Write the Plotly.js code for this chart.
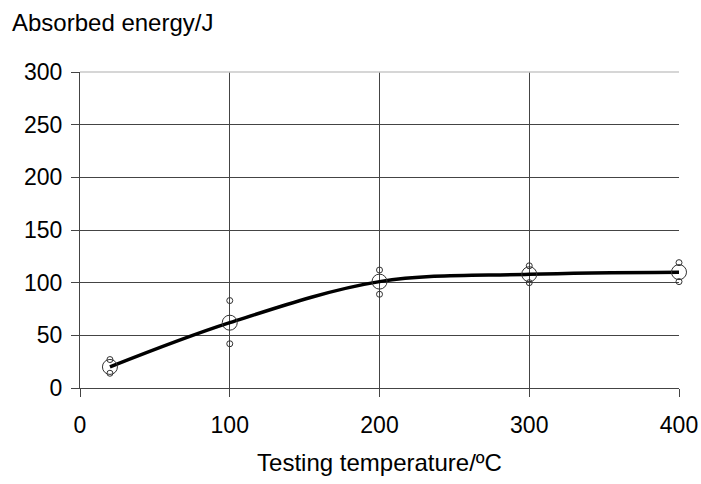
<!DOCTYPE html>
<html><head><meta charset="utf-8">
<script src="https://cdn.plot.ly/plotly-3.0.1.min.js"></script>
<style>html,body{margin:0;padding:0;background:#fff}#chart{width:701px;height:484px}</style>
</head><body><div id="chart"></div>
<script>
const temps = [20, 100, 200, 300, 400];
const meanEnergy = [20, 62, 101, 108, 110];
const indivTemps = [20, 20, 100, 100, 200, 200, 300, 300, 400, 400];
const indivEnergy = [27, 14, 83, 42, 112, 89, 116, 100, 119, 101];
const xTicks = [0, 100, 200, 300, 400];
const yTicks = [0, 50, 100, 150, 200, 250, 300];

const font = {family: 'Liberation Sans, Arial, sans-serif', color: '#000'};
const traces = [
  {x: temps, y: meanEnergy, mode: 'lines', line: {color: '#000', width: 3.5, shape: 'spline', smoothing: 1}, hoverinfo: 'skip', cliponaxis: false},
  {x: temps, y: meanEnergy, mode: 'markers', cliponaxis: false, marker: {symbol: 'circle-open', size: 15, color: '#333', line: {width: 1}}},
  {x: indivTemps, y: indivEnergy, mode: 'markers', cliponaxis: false, marker: {symbol: 'circle-open', size: 6, color: '#333', line: {width: 1}}}
];
const layout = {
  width: 701, height: 484,
  paper_bgcolor: '#fff', plot_bgcolor: '#fff',
  showlegend: false,
  margin: {l: 80, r: 22, t: 72, b: 96},
  title: {text: 'Absorbed energy/J', font: Object.assign({size: 24}, font), x: 12/701, xanchor: 'left', xref: 'container', y: 1 - 23/484, yanchor: 'middle', yref: 'container'},
  xaxis: {range: [0, 400], tickvals: xTicks, ticktext: xTicks.map(String), showgrid: true, gridcolor: '#444', gridwidth: 1,
    zeroline: false, showline: true, linecolor: '#444', linewidth: 1, ticks: 'outside', ticklen: 8, tickcolor: '#444',
    ticklabelstandoff: 8,
    tickfont: Object.assign({size: 23}, font), title: {text: 'Testing temperature/ºC', font: Object.assign({size: 24}, font), standoff: 17}},
  yaxis: {range: [0, 300], tickvals: yTicks, ticktext: yTicks.map(String), showgrid: true, gridcolor: '#444', gridwidth: 1,
    zeroline: false, showline: true, linecolor: '#444', linewidth: 1, ticks: 'outside', ticklen: 8, tickcolor: '#444',
    ticklabelstandoff: 4,
    tickfont: Object.assign({size: 23}, font)},
  shapes: [{type: 'line', xref: 'paper', yref: 'paper', x0: 0, x1: 1, y0: 1, y1: 1, line: {color: '#c8c8c8', width: 1.5}, layer: 'above'}]
};
Plotly.newPlot('chart', traces, layout, {displayModeBar: false, staticPlot: true});
</script></body></html>
